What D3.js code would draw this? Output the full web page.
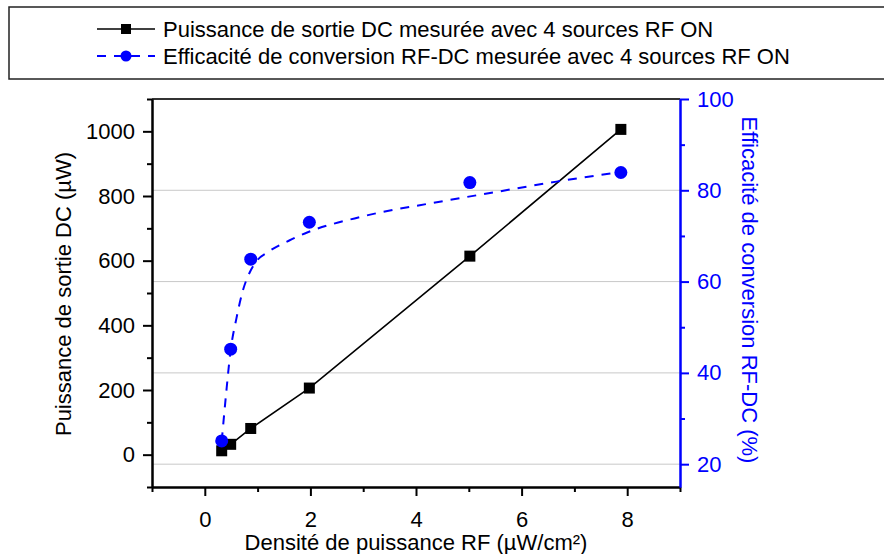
<!DOCTYPE html>
<html>
<head>
<meta charset="utf-8">
<script src="https://cdn.jsdelivr.net/npm/d3@7"></script>
<style>
  html, body { margin: 0; padding: 0; background: #fff; }
  svg { display: block; font-family: "Liberation Sans", Arial, sans-serif; }
</style>
</head>
<body>
<svg id="chart" width="884" height="554"></svg>
<script>
// ---- Data ----
const density = [0.32, 0.49, 0.87, 1.98, 5.02, 7.88];          // µW/cm²
const dcPower = [12, 32, 81, 206, 614, 1006];                  // µW
const efficiency = [25.1, 45.2, 64.9, 73.0, 81.7, 83.9];       // %
// dashed fit curve
const fitDensity = [0.32, 0.40, 0.49, 0.60, 0.72, 0.85, 0.98, 1.2, 1.6, 1.95, 3.0, 4.45, 5.5, 6.66, 7.88];
const fitEfficiency = [25, 35, 45, 52, 58, 62, 64.5, 66.5, 69, 70.8, 74.3, 77.5, 79.6, 81.9, 84];

const xTicks = [0, 2, 4, 6, 8];
const xMinorTicks = [-1, 1, 3, 5, 7, 9];
const leftTicks = [0, 200, 400, 600, 800, 1000];
const leftMinorTicks = [-100, 100, 300, 500, 700, 900, 1100];
const rightTicks = [20, 40, 60, 80, 100];
const rightMinorTicks = [30, 50, 70, 90];

const legendLabels = [
  "Puissance de sortie DC mesurée avec 4 sources RF ON",
  "Efficacité de conversion RF-DC mesurée avec 4 sources RF ON"
];
const xTitle = "Densité de puissance RF (µW/cm²)";
const leftTitle = "Puissance de sortie DC (µW)";
const rightTitle = "Efficacité de conversion RF-DC (%)";

// ---- Layout ----
const svg = d3.select("#chart");
const L = 152, R = 680, T = 99, B = 487;
const BLUE = "#0000ff";
const FS = 22;

const x = d3.scaleLinear().domain([-1, 9]).range([L, R]);
const yL = d3.scaleLinear().domain([-100, 1100]).range([B, T]);
const yR = d3.scaleLinear().domain([15, 100]).range([B, T]);

// gridlines (at right-axis major values)
svg.append("g").selectAll("line")
  .data(rightTicks.filter(d => d < 100))
  .join("line")
  .attr("x1", L).attr("x2", R)
  .attr("y1", d => yR(d)).attr("y2", d => yR(d))
  .attr("stroke", "#c8c8c8").attr("stroke-width", 1);

// top frame line
svg.append("line").attr("x1", L).attr("x2", R).attr("y1", T).attr("y2", T)
  .attr("stroke", "#333").attr("stroke-width", 2);

function styleAxis(g, color) {
  g.selectAll("path.domain").attr("stroke", color).attr("stroke-width", 2);
  g.selectAll(".tick line").attr("stroke", color).attr("stroke-width", 2);
  g.selectAll(".tick text").attr("fill", color).style("font-size", FS + "px")
    .style("font-family", "'Liberation Sans', Arial, sans-serif");
}

// bottom axis
const gxMinor = svg.append("g").attr("transform", `translate(0,${B})`)
  .call(d3.axisBottom(x).tickValues(xMinorTicks).tickSize(5).tickSizeOuter(0).tickFormat(""));
styleAxis(gxMinor, "#000");
const gx = svg.append("g").attr("transform", `translate(0,${B})`)
  .call(d3.axisBottom(x).tickValues(xTicks).tickSize(9).tickSizeOuter(0).tickPadding(15).tickFormat(d3.format("d")));
styleAxis(gx, "#000");

// left axis
const gyMinor = svg.append("g").attr("transform", `translate(${L},0)`)
  .call(d3.axisLeft(yL).tickValues(leftMinorTicks).tickSize(5).tickSizeOuter(0).tickFormat(""));
styleAxis(gyMinor, "#000");
const gy = svg.append("g").attr("transform", `translate(${L},0)`)
  .call(d3.axisLeft(yL).tickValues(leftTicks).tickSize(9).tickSizeOuter(0).tickPadding(8).tickFormat(d3.format("d")));
styleAxis(gy, "#000");

// right axis
const grMinor = svg.append("g").attr("transform", `translate(${R},0)`)
  .call(d3.axisRight(yR).tickValues(rightMinorTicks).tickSize(5).tickSizeOuter(0).tickFormat(""));
styleAxis(grMinor, BLUE);
const gr = svg.append("g").attr("transform", `translate(${R},0)`)
  .call(d3.axisRight(yR).tickValues(rightTicks).tickSize(9).tickSizeOuter(0).tickPadding(8).tickFormat(d3.format("d")));
styleAxis(gr, BLUE);

// axis titles
svg.append("text").attr("x", 416).attr("y", 550).attr("text-anchor", "middle")
  .style("font-size", FS + "px").attr("fill", "#000").text(xTitle);
svg.append("text").attr("transform", `translate(71,294) rotate(-90)`).attr("text-anchor", "middle")
  .style("font-size", FS + "px").attr("fill", "#000").text(leftTitle);
svg.append("text").attr("transform", `translate(742,290) rotate(90)`).attr("text-anchor", "middle")
  .style("font-size", FS + "px").attr("fill", BLUE).text(rightTitle);

// series: black line with squares
const blackPts = density.map((d, i) => [d, dcPower[i]]);
svg.append("path").datum(blackPts)
  .attr("d", d3.line().x(d => x(d[0])).y(d => yL(d[1])))
  .attr("fill", "none").attr("stroke", "#000").attr("stroke-width", 1.6);
svg.append("g").selectAll("rect").data(blackPts).join("rect")
  .attr("x", d => x(d[0]) - 5.5).attr("y", d => yL(d[1]) - 5.5)
  .attr("width", 11).attr("height", 11).attr("fill", "#000");

// series: blue dashed fit + circles
const fitPts = fitDensity.map((d, i) => [d, fitEfficiency[i]]);
svg.append("path").datum(fitPts)
  .attr("d", d3.line().curve(d3.curveMonotoneX).x(d => x(d[0])).y(d => yR(d[1])))
  .attr("fill", "none").attr("stroke", BLUE).attr("stroke-width", 2)
  .attr("stroke-dasharray", "9,8");
const bluePts = density.map((d, i) => [d, efficiency[i]]);
svg.append("g").selectAll("circle").data(bluePts).join("circle")
  .attr("cx", d => x(d[0])).attr("cy", d => yR(d[1])).attr("r", 6.5).attr("fill", BLUE);

// legend
svg.append("rect").attr("x", 9).attr("y", 7).attr("width", 900).attr("height", 72)
  .attr("fill", "none").attr("stroke", "#222").attr("stroke-width", 1.5);
const legY = [29, 56];
// row 1
svg.append("line").attr("x1", 97).attr("x2", 155).attr("y1", legY[0]).attr("y2", legY[0])
  .attr("stroke", "#000").attr("stroke-width", 1.6);
svg.append("rect").attr("x", 126 - 5).attr("y", legY[0] - 5).attr("width", 10).attr("height", 10).attr("fill", "#000");
// row 2
svg.append("line").attr("x1", 97).attr("x2", 155).attr("y1", legY[1]).attr("y2", legY[1])
  .attr("stroke", BLUE).attr("stroke-width", 2).attr("stroke-dasharray", "9,8");
svg.append("circle").attr("cx", 126).attr("cy", legY[1]).attr("r", 5.5).attr("fill", BLUE);
svg.append("g").selectAll("text").data(legendLabels).join("text")
  .attr("x", 163).attr("y", (d, i) => legY[i] + 8)
  .style("font-size", FS + "px").attr("fill", "#000").text(d => d);
</script>
</body>
</html>
